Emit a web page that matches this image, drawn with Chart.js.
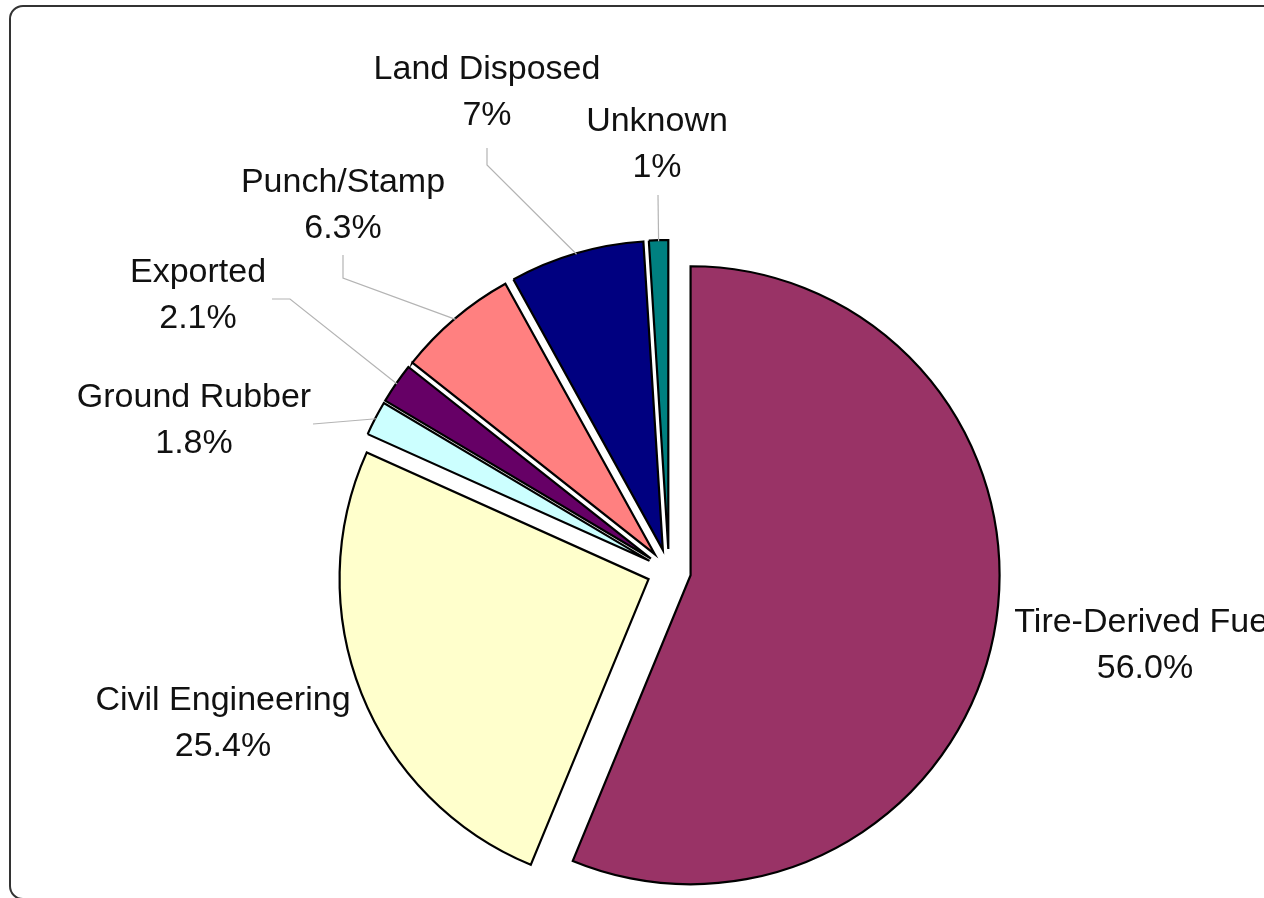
<!DOCTYPE html>
<html>
<head>
<meta charset="utf-8">
<script src="https://cdn.jsdelivr.net/npm/chart.js@4.4.1/dist/chart.umd.min.js"></script>
<style>
  html, body { margin: 0; padding: 0; background: #fff; overflow: hidden; }
  #wrap { position: relative; width: 1264px; height: 898px; overflow: hidden; }
  canvas { position: absolute; left: 0; top: 0; }
  #frame {
    position: absolute; left: 9px; top: 5px; width: 1300px; height: 891px;
    border: 2px solid #333; border-radius: 14px; pointer-events: none;
  }
</style>
</head>
<body>
<div id="wrap">
  <canvas id="c" width="1264" height="898"></canvas>
  <div id="frame"></div>
</div>
<script>
// Scrap tire end uses, share of total (%)
const categories = ['Tire-Derived Fuel', 'Civil Engineering', 'Ground Rubber', 'Exported', 'Punch/Stamp', 'Land Disposed', 'Unknown'];
const shares = [56.0, 25.4, 1.8, 2.1, 6.3, 7, 1];
const shareDecimals = [1, 1, 1, 1, 1, 0, 0];
const sliceColors = ['#993366', '#FFFFCC', '#CCFFFF', '#660066', '#FF8080', '#000080', '#008080'];

// Label placement relative to the pie centre (px); leader = polyline start/elbow points
const labelLayout = [
  { dx: 476,  dy: 52,   leader: null },
  { dx: -446, dy: 130,  leader: null },
  { dx: -475, dy: -173, leader: [[-356, -147]] },
  { dx: -471, dy: -298, leader: [[-397, -272], [-379, -272]] },
  { dx: -326, dy: -388, leader: [[-326, -316], [-326, -293]] },
  { dx: -182, dy: -501, leader: [[-182, -423], [-182, -406]] },
  { dx: -12,  dy: -449, leader: [[-11, -376]] }
];

const PIE_RADIUS = 309;
const EXPLODE = 22;
const LINE_GAP = 46;

function pieCentre(chart) {
  const a = chart.chartArea;
  return { x: (a.left + a.right) / 2, y: (a.top + a.bottom) / 2 };
}

// Pull every slice out along its bisector
const explodePlugin = {
  id: 'explode',
  beforeDatasetsDraw(chart, args, opts) {
    const c = pieCentre(chart);
    chart.getDatasetMeta(0).data.forEach(arc => {
      const mid = (arc.startAngle + arc.endAngle) / 2;
      arc.x = c.x + Math.cos(mid) * opts.distance;
      arc.y = c.y + Math.sin(mid) * opts.distance;
    });
  }
};

// Category name + percentage, with thin leader lines for the small slices
const sliceLabelPlugin = {
  id: 'sliceLabels',
  afterDatasetsDraw(chart) {
    const ctx = chart.ctx;
    const c = pieCentre(chart);
    const arcs = chart.getDatasetMeta(0).data;
    ctx.save();
    arcs.forEach((arc, i) => {
      const lay = labelLayout[i];
      if (lay.leader) {
        const mid = (arc.startAngle + arc.endAngle) / 2;
        const ex = arc.x + Math.cos(mid) * (arc.outerRadius - 1);
        const ey = arc.y + Math.sin(mid) * (arc.outerRadius - 1);
        ctx.beginPath();
        lay.leader.forEach((p, k) => {
          if (k === 0) ctx.moveTo(c.x + p[0], c.y + p[1]);
          else ctx.lineTo(c.x + p[0], c.y + p[1]);
        });
        ctx.lineTo(ex, ey);
        ctx.strokeStyle = '#b4b4b4';
        ctx.lineWidth = 1.2;
        ctx.stroke();
      }
      const x = c.x + lay.dx, y = c.y + lay.dy;
      ctx.fillStyle = '#111';
      ctx.font = '34px "Liberation Sans", Arial, sans-serif';
      ctx.textAlign = 'center';
      ctx.textBaseline = 'middle';
      ctx.fillText(categories[i], x, y);
      ctx.fillText(shares[i].toFixed(shareDecimals[i]) + '%', x, y + LINE_GAP);
    });
    ctx.restore();
  }
};

new Chart(document.getElementById('c'), {
  type: 'pie',
  data: {
    labels: categories,
    datasets: [{
      data: shares,
      backgroundColor: sliceColors,
      borderColor: '#000',
      borderWidth: 2.2,
      borderJoinStyle: 'miter'
    }]
  },
  options: {
    responsive: false,
    animation: false,
    events: [],
    radius: PIE_RADIUS,
    layout: { padding: { left: 74, right: 0, top: 244, bottom: 0 } },
    plugins: {
      legend: { display: false },
      tooltip: { enabled: false },
      explode: { distance: EXPLODE }
    }
  },
  plugins: [explodePlugin, sliceLabelPlugin]
});
</script>
</body>
</html>
